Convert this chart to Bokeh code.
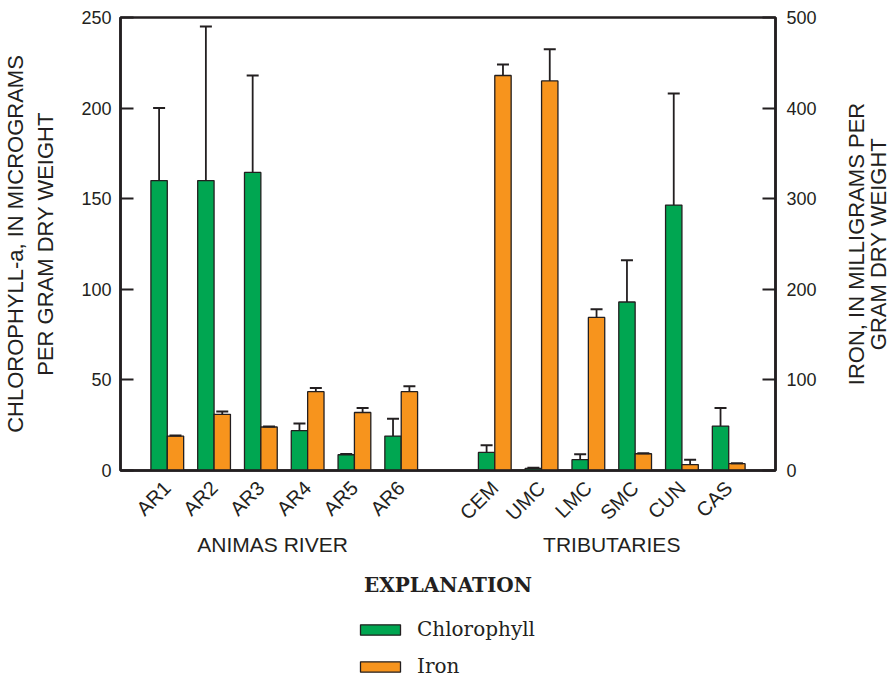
import math
from bokeh.plotting import figure
from bokeh.layouts import column, row
from bokeh.models import (Range1d, LinearAxis, FixedTicker, Legend, LegendItem,
                          ColumnDataSource, Label)
from bokeh.embed import file_html
from bokeh.resources import INLINE

# ---------------- data ----------------
sites = ["AR1", "AR2", "AR3", "AR4", "AR5", "AR6",
         "CEM", "UMC", "LMC", "SMC", "CUN", "CAS"]
groups = ["ANIMAS RIVER"] * 6 + ["TRIBUTARIES"] * 6
chlorophyll = [160, 160, 164.5, 22, 8.7, 19, 10, 1.2, 6, 93, 146.5, 24.5]
chlorophyll_err = [40, 85, 53.5, 4, 0.4, 9.5, 4, 0.3, 3, 23, 61.5, 10]
iron = [38, 62, 48, 87, 64, 87, 436, 430, 169, 18.5, 6.5, 7.5]
iron_err = [0.6, 3, 0.6, 4, 5, 6, 12, 35, 9, 0.6, 5.5, 0.6]
chl_ticks = [0, 50, 100, 150, 200, 250]
iron_ticks = [0, 100, 200, 300, 400, 500]
group_names = ["ANIMAS RIVER", "TRIBUTARIES"]
series_names = ["Chlorophyll", "Iron"]
left_title = "CHLOROPHYLL-a, IN MICROGRAMS\nPER GRAM DRY WEIGHT"
right_title_lines = ["IRON, IN MILLIGRAMS PER", "GRAM DRY WEIGHT"]

INK = "#231f20"
GREEN = "#00a651"
ORANGE = "#f7941d"
BW = 0.35
CHL_MAX = 250
FE_MAX = 500

# layout (pixels)
TOP, BOTTOM, LEFT = 17, 130, 120
MAIN_W, SIDE_W, MAIN_H, LEG_H = 820, 70, 600, 77

# x position: one slot per site, one empty slot between the two groups
xpos = [i + 1 + group_names.index(g) for i, g in enumerate(groups)]
group_centers = []
for gname in group_names:
    xs = [x for x, g in zip(xpos, groups) if g == gname]
    group_centers.append(sum(xs) / len(xs))
group_label_x = [group_centers[0] - 0.25, group_centers[1]]

src = ColumnDataSource(dict(
    x=xpos,
    xg=[x - BW / 2 for x in xpos],
    xo=[x + BW / 2 for x in xpos],
    chl=chlorophyll,
    chl_top=[v + e for v, e in zip(chlorophyll, chlorophyll_err)],
    fe=iron,
    fe_top=[v + e for v, e in zip(iron, iron_err)],
))

p = figure(width=MAIN_W, height=MAIN_H, output_backend="svg",
           toolbar_location=None,
           x_range=Range1d(0, 14), y_range=Range1d(0, CHL_MAX),
           min_border_left=LEFT, min_border_right=45,
           min_border_top=TOP, min_border_bottom=BOTTOM)
p.extra_y_ranges = {"iron": Range1d(0, FE_MAX)}

p.xgrid.visible = False
p.ygrid.visible = False
p.outline_line_color = INK
p.outline_line_width = 2.5
p.outline_line_alpha = 1.0
p.background_fill_color = "white"
p.border_fill_color = "white"

p.vbar(x="xg", top="chl", bottom=0, width=BW, source=src,
       fill_color=GREEN, line_color=INK, line_width=1.3)
p.vbar(x="xo", top="fe", bottom=0, width=BW, source=src,
       fill_color=ORANGE, line_color=INK, line_width=1.3,
       y_range_name="iron")

# error bars (upper only)
p.segment(x0="xg", y0="chl", x1="xg", y1="chl_top", source=src,
          line_color=INK, line_width=1.8)
p.dash(x="xg", y="chl_top", source=src, size=12, line_color=INK, line_width=2)
p.segment(x0="xo", y0="fe", x1="xo", y1="fe_top", source=src,
          line_color=INK, line_width=1.8, y_range_name="iron")
p.dash(x="xo", y="fe_top", source=src, size=12, line_color=INK, line_width=2,
       y_range_name="iron")

def style_axis(ax, size="18px"):
    ax.minor_tick_line_color = None
    ax.axis_line_width = 2.5
    ax.axis_line_color = INK
    ax.major_label_text_font = "Liberation Sans"
    ax.major_label_text_font_size = size
    ax.major_label_text_color = INK
    ax.axis_label_text_font = "Liberation Sans"
    ax.axis_label_text_font_style = "normal"
    ax.axis_label_text_color = INK

# site axis
xa = p.xaxis[0]
style_axis(xa, "20px")
xa.ticker = FixedTicker(ticks=xpos)
xa.major_label_overrides = {x: s for x, s in zip(xpos, sites)}
xa.major_label_orientation = math.pi / 4
xa.major_tick_in = 0
xa.major_tick_out = 0
xa.major_label_standoff = 14

# group axis + explanation title
ga = LinearAxis(ticker=FixedTicker(ticks=group_label_x))
style_axis(ga, "21px")
ga.major_label_overrides = {t: s for t, s in zip(group_label_x, group_names)}
ga.axis_line_color = None
ga.major_tick_in = 0
ga.major_tick_out = 0
ga.major_label_standoff = -3
ga.axis_label = "EXPLANATION"
ga.axis_label_text_font = "DejaVu Serif"
ga.axis_label_text_font_style = "bold"
ga.axis_label_text_font_size = "20px"
ga.axis_label_standoff = 14
p.add_layout(ga, "below")

# left axis
ya = p.yaxis[0]
style_axis(ya)
ya.ticker = FixedTicker(ticks=chl_ticks)
ya.major_tick_in = 13
ya.major_tick_out = 0
ya.major_tick_line_width = 2
ya.major_tick_line_color = INK
ya.major_label_standoff = 9
ya.axis_label = left_title
ya.axis_label_text_font_size = "22px"
ya.axis_label_standoff = 20

# right axis
ra = LinearAxis(y_range_name="iron", ticker=FixedTicker(ticks=iron_ticks))
style_axis(ra)
ra.major_tick_in = 13
ra.major_tick_out = 0
ra.major_tick_line_width = 2
ra.major_tick_line_color = INK
ra.major_label_standoff = 11
p.add_layout(ra, "right")

# ---------------- right-hand title (reads bottom to top) ----------------
rf = figure(width=SIDE_W, height=MAIN_H, output_backend="svg",
            toolbar_location=None,
            x_range=Range1d(0, SIDE_W), y_range=Range1d(0, CHL_MAX),
            x_axis_type=None, y_axis_type=None,
            min_border_left=0, min_border_right=0,
            min_border_top=TOP, min_border_bottom=BOTTOM,
            outline_line_color=None)
rf.xgrid.visible = False
rf.ygrid.visible = False
for line, xc in zip(right_title_lines, [36, 58]):
    rf.add_layout(Label(x=xc, y=CHL_MAX / 2, text=line, angle=math.pi / 2,
                        text_align="center", text_baseline="middle",
                        text_font="Liberation Sans", text_font_size="22px",
                        text_color=INK))

# ---------------- explanation (legend) ----------------
q = figure(width=MAIN_W + SIDE_W, height=LEG_H, output_backend="svg",
           toolbar_location=None,
           x_range=Range1d(0, 1), y_range=Range1d(0, 1),
           x_axis_type=None, y_axis_type=None,
           min_border_left=LEFT, min_border_right=115,
           min_border_top=0, min_border_bottom=0,
           outline_line_color=None)
q.xgrid.visible = False
q.ygrid.visible = False
# legend proxies of zero size (only their styles feed the legend swatches)
r_chl = q.vbar(x=[0.5], top=[0], bottom=[0], width=0, fill_color=GREEN,
               line_color=INK, line_width=1.3)
r_fe = q.vbar(x=[0.5], top=[0], bottom=[0], width=0, fill_color=ORANGE,
              line_color=INK, line_width=1.3)
legend = Legend(items=[LegendItem(label=series_names[0], renderers=[r_chl]),
                       LegendItem(label=series_names[1], renderers=[r_fe])],
                location=(235, -1), orientation="vertical",
                glyph_width=50, glyph_height=13, label_standoff=12,
                label_text_font="DejaVu Serif", label_text_font_size="20px",
                label_text_color=INK, spacing=13, padding=0, margin=0,
                border_line_alpha=0, background_fill_alpha=0)
q.add_layout(legend, "center")

layout = column(row(p, rf, spacing=0), q, spacing=0)
open("out.html", "w").write(file_html(layout, INLINE))
